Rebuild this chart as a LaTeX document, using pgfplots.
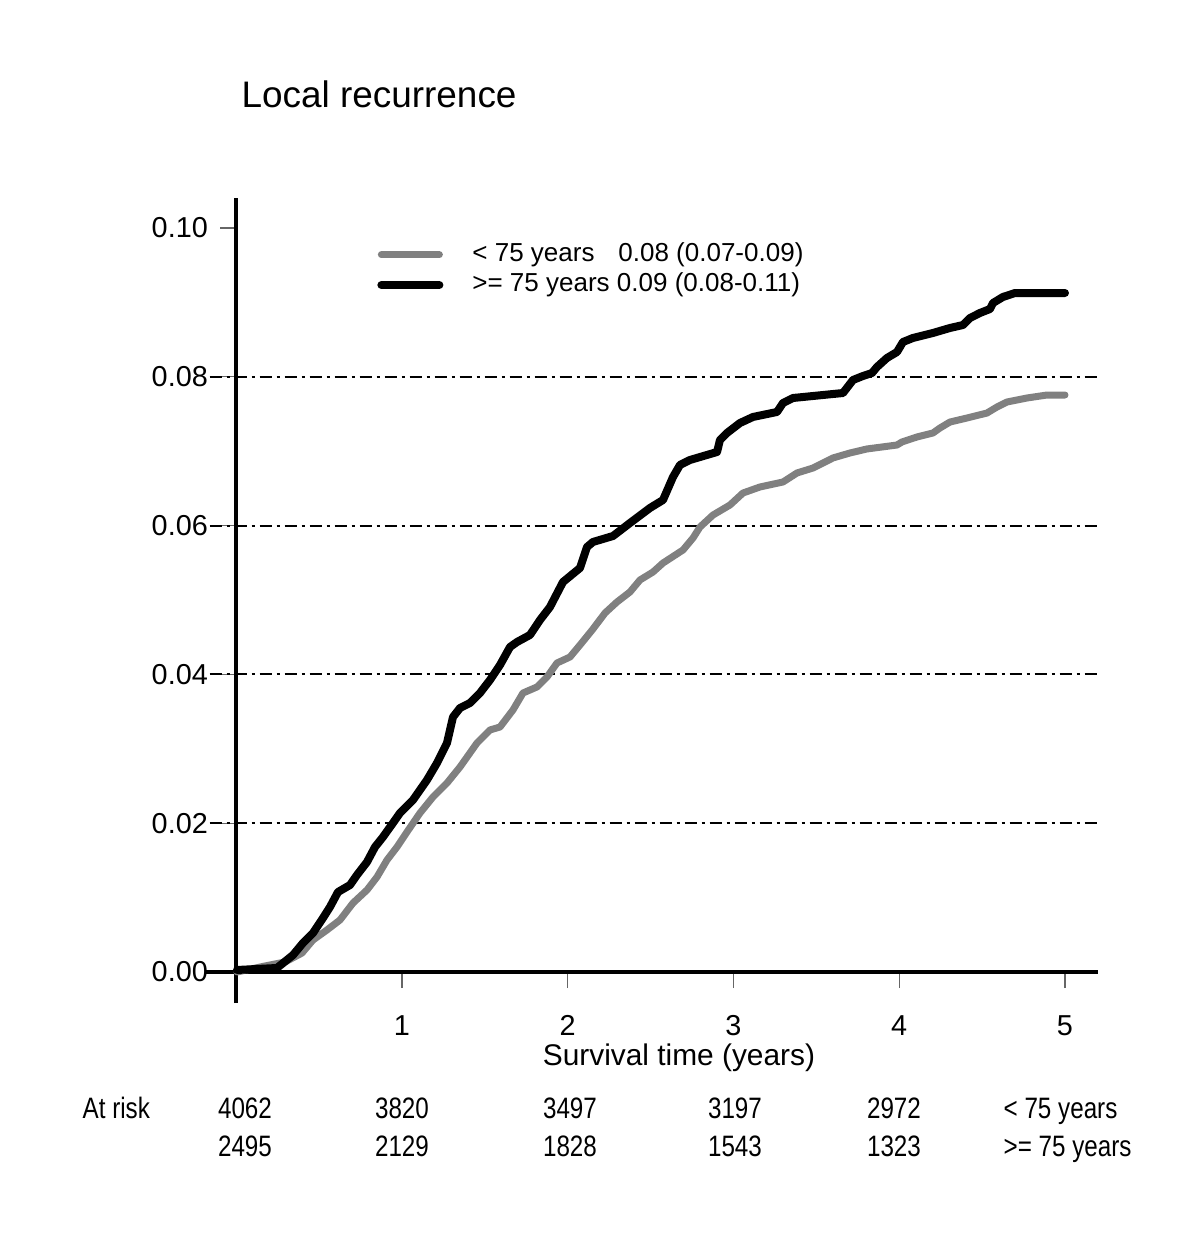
\documentclass[border=0pt]{standalone}
\usepackage{pgfplots}
\pgfplotsset{compat=1.18}
\usepackage{fontspec}
\setmainfont{Liberation Sans}
\newfontfamily\narrowfont[FakeStretch=0.82]{Liberation Sans}
\definecolor{kmgray}{RGB}{128,128,128}

\begin{document}
\begin{tikzpicture}[x=1cm,y=1cm]
\useasboundingbox (-2.3625,-2.46) rectangle (9.6375,10.03);
\begin{axis}[
  at={(0,0)}, anchor=south west,
  scale only axis, width=8.619cm, height=8.05cm,
  xmin=0, xmax=5.2, ymin=-0.004167, ymax=0.10403,
  axis x line=middle, axis y line=left,
  axis line style={-, line width=0.035cm, black},
  clip=false,
  xtick={1,2,3,4,5},
  ytick={0,0.02,0.04,0.06,0.08,0.1},
  scaled y ticks=false,
  yticklabel style={/pgf/number format/fixed, /pgf/number format/fixed zerofill,
    /pgf/number format/precision=2},
  xticklabel style={yshift=-0.15cm},
  /pgf/number format/assume math mode=true,
  tick align=outside, major tick length=0.16cm,
  tick style={line width=0.012cm, black!60},
  ticklabel style={font=\fontsize{8.2}{9.8}\selectfont},
  legend style={at={(axis cs:0.7836,0.1000)}, anchor=north west, draw=none, fill=none,
    font=\fontsize{7.4}{8.9}\selectfont, column sep=0.22cm, row sep=-0.08cm},
  legend cell align=left,
  legend image code/.code={\draw[#1] (0cm,0cm) -- (0.58cm,0cm);},
]
\pgfplotsinvokeforeach{0.02,0.04,0.06,0.08}{
  \draw[line width=0.02cm, dash pattern=on 0.12cm off 0.05cm on 0.03cm off 0.05cm]
    (axis cs:-0.16,#1) -- (axis cs:5.2,#1);
}
\draw[line width=0.035cm] (axis cs:-0.18,0) -- (axis cs:0,0);

% < 75 years
\addplot[kmgray, line width=0.07cm, line join=round, line cap=round] coordinates {
(0.0045,0.0) (0.1734,0.00081) (0.2941,0.00134) (0.3967,0.00255) (0.4630,0.0043)
(0.5475,0.00565) (0.6259,0.00699) (0.7044,0.00927) (0.7888,0.01102) (0.8492,0.01277)
(0.9095,0.01505) (0.9698,0.0168) (1.0302,0.01882) (1.1086,0.02137) (1.1870,0.02352)
(1.2715,0.0254) (1.3499,0.02755) (1.4525,0.03078) (1.5309,0.03253) (1.5913,0.03293)
(1.6697,0.03522) (1.7300,0.0375) (1.8145,0.03831) (1.8748,0.03965) (1.9351,0.04153)
(2.0136,0.04234) (2.0739,0.04395) (2.1523,0.0461) (2.2247,0.04825) (2.2971,0.04973)
(2.3756,0.05108) (2.4359,0.05269) (2.5143,0.05376) (2.5747,0.05497) (2.6953,0.05672)
(2.7557,0.05833) (2.7979,0.05981) (2.8763,0.06142) (2.9789,0.06277) (3.0573,0.06438)
(3.1599,0.06519) (3.2986,0.06586) (3.3831,0.06707) (3.4796,0.06774) (3.6003,0.06909)
(3.7029,0.06976) (3.8054,0.0703) (3.9864,0.07083) (4.0166,0.07124) (4.1071,0.07191)
(4.2036,0.07245) (4.2459,0.07312) (4.3062,0.07392) (4.4087,0.07446) (4.5294,0.07513)
(4.5897,0.07594) (4.6501,0.07661) (4.7707,0.07715) (4.8914,0.07755) (5.0,0.07755)
};
\addlegendentry{\makebox[1.46cm][l]{< 75 years}0.08 (0.07-0.09)}

% >= 75 years
\addplot[black, line width=0.08cm, line join=round, line cap=round] coordinates {
(0.0045,0.00027) (0.2459,0.00054) (0.3424,0.00228) (0.4027,0.0039) (0.4630,0.00524)
(0.5234,0.00726) (0.5656,0.00874) (0.6139,0.01075) (0.6863,0.01169) (0.7285,0.01304)
(0.7888,0.01478) (0.8371,0.0168) (0.8854,0.01815) (0.9457,0.02003) (0.9879,0.02137)
(1.0664,0.02312) (1.1508,0.02581) (1.2112,0.02809) (1.2715,0.03078) (1.3077,0.03427)
(1.3499,0.03548) (1.4103,0.03616) (1.4706,0.0375) (1.5309,0.03925) (1.5913,0.04126)
(1.6516,0.04368) (1.6938,0.04435) (1.7722,0.0453) (1.8326,0.04731) (1.8929,0.04906)
(1.9713,0.05242) (2.0739,0.0543) (2.1161,0.05712) (2.1523,0.0578) (2.2730,0.0586)
(2.3756,0.06035) (2.4962,0.06237) (2.5747,0.06344) (2.6350,0.06653) (2.6772,0.06815)
(2.7376,0.06882) (2.9005,0.06989) (2.9186,0.07151) (2.9608,0.07245) (3.0392,0.07379)
(3.1176,0.0746) (3.2624,0.07527) (3.2986,0.07648) (3.3590,0.07715) (3.6606,0.07782)
(3.7210,0.07957) (3.7813,0.08011) (3.8356,0.08051) (3.8658,0.08132) (3.9261,0.08253)
(3.9864,0.08333) (4.0226,0.08468) (4.0830,0.08522) (4.2036,0.08589) (4.3062,0.08656)
(4.3846,0.08696) (4.4268,0.0879) (4.4872,0.08858) (4.5475,0.08911) (4.5656,0.08992)
(4.6259,0.09073) (4.6983,0.09126) (5.0,0.09126)
};
\addlegendentry{>= 75 years 0.09 (0.08-0.11)}

% title and axis label
\node[anchor=base west, font=\fontsize{10.5}{12.6}\selectfont, inner sep=0pt]
  at (axis cs:0.0287,0.11613) {Local recurrence};
\node[anchor=base, font=\fontsize{8.5}{10.2}\selectfont, inner sep=0pt]
  at (axis cs:2.671,-0.01263) {Survival time (years)};

% numbers at risk
\begin{scope}[every node/.style={font=\narrowfont\fontsize{8.4}{10}\selectfont, inner sep=0pt}]
\node[anchor=base west] at (axis cs:-0.9306,-0.01969) {At risk};
\node[anchor=base] at (axis cs:0.0528,-0.01969) {4062};
\node[anchor=base] at (axis cs:1.0,-0.01969) {3820};
\node[anchor=base] at (axis cs:2.0136,-0.01969) {3497};
\node[anchor=base] at (axis cs:3.0091,-0.01969) {3197};
\node[anchor=base] at (axis cs:3.9683,-0.01969) {2972};
\node[anchor=base west] at (axis cs:4.6259,-0.01969) {< 75 years};
\node[anchor=base] at (axis cs:0.0528,-0.0248) {2495};
\node[anchor=base] at (axis cs:1.0,-0.0248) {2129};
\node[anchor=base] at (axis cs:2.0136,-0.0248) {1828};
\node[anchor=base] at (axis cs:3.0091,-0.0248) {1543};
\node[anchor=base] at (axis cs:3.9683,-0.0248) {1323};
\node[anchor=base west] at (axis cs:4.6259,-0.0248) {>= 75 years};
\end{scope}
\end{axis}
\end{tikzpicture}
\end{document}
